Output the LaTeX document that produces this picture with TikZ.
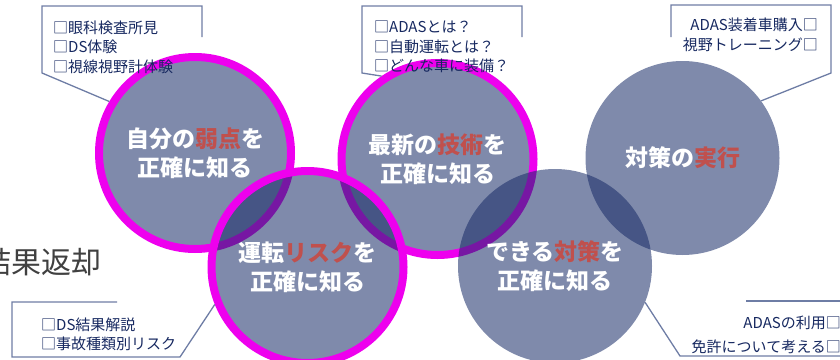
\documentclass[tikz,border=0pt]{standalone}
\usepackage{fontspec}
\setmainfont{Noto Sans CJK JP}
\definecolor{circfill}{RGB}{22,42,102}
\definecolor{ring}{RGB}{238,0,238}
\definecolor{hl}{RGB}{192,80,77}
\definecolor{calltext}{RGB}{22,40,96}
\definecolor{callline}{RGB}{110,125,165}
\definecolor{gtext}{RGB}{64,64,64}
\tikzset{
  bubble/.style={circle, inner sep=0pt, fill=circfill, fill opacity=0.55, text opacity=1,
    text=white, font=\fontsize{23}{29}\selectfont\bfseries, align=center},
  ringed/.style={bubble, draw=ring, draw opacity=1, line width=8pt, minimum size=192pt},
  plain/.style={bubble, minimum size=194pt},
  calltxt/.style={text=calltext, font=\fontsize{15}{19.7}\selectfont, inner sep=0pt},
  callout/.style={draw=callline, line width=1.3pt},
}
\begin{document}
\begin{tikzpicture}[x=1pt,y=-1pt]
\useasboundingbox (0,0) rectangle (840,359);
% circles
\node[ringed] (c1) at (195,153) {自分の\textcolor{hl}{弱点}を\\正確に知る};
\node[ringed] (c3) at (437.5,159) {最新の\textcolor{hl}{技術}を\\正確に知る};
\node[ringed] (c2) at (307.5,267) {運転\textcolor{hl}{リスク}を\\正確に知る};
\node[plain] (c4) at (555,266) {できる\textcolor{hl}{対策}を\\正確に知る};
\node[plain] (c5) at (682.5,158) {対策の\textcolor{hl}{実行}};
% callouts
\draw[callout] (202,37) -- (202,6) -- (42,6) -- (42,73) -- (c1.149);
\draw[callout] (522,37) -- (522,6) -- (362,6) -- (362,73) -- (c3.124);
\draw[callout] (671,37) -- (671,5) -- (831,5) -- (831,73) -- (c5.36);
\draw[callout] (117,302) -- (12,302) -- (12,357) -- (180,357) -- (c2.202);
\draw[callout] (840,301) -- (746,301);
\draw[callout] (840,356) -- (680,356) -- (c4.338);
% callout texts
\node[calltxt, anchor=west, align=left] (t1) at (53,47) {□眼科検査所見\\□DS体験\\□視線視野計体験};
\node[calltxt, anchor=west, align=left] (t2) at (374,47) {□ADASとは？\\□自動運転とは？\\□どんな車に装備？};
\node[calltxt, anchor=east, align=right] (t3) at (818,35) {ADAS装着車購入□\\視野トレーニング□};
\node[calltxt, anchor=west, align=left, font=\fontsize{15}{19}\selectfont] (t4) at (41,334.5) {□DS結果解説\\□事故種類別リスク};
\node[calltxt, anchor=east, align=right, font=\fontsize{15}{24}\selectfont] (t5) at (841,335) {ADASの利用□\\免許について考える□};
\node[text=gtext, font=\fontsize{30}{30}\selectfont, anchor=west, inner sep=0pt] (kk) at (-19,262) {結果返却};
\end{tikzpicture}
\end{document}
